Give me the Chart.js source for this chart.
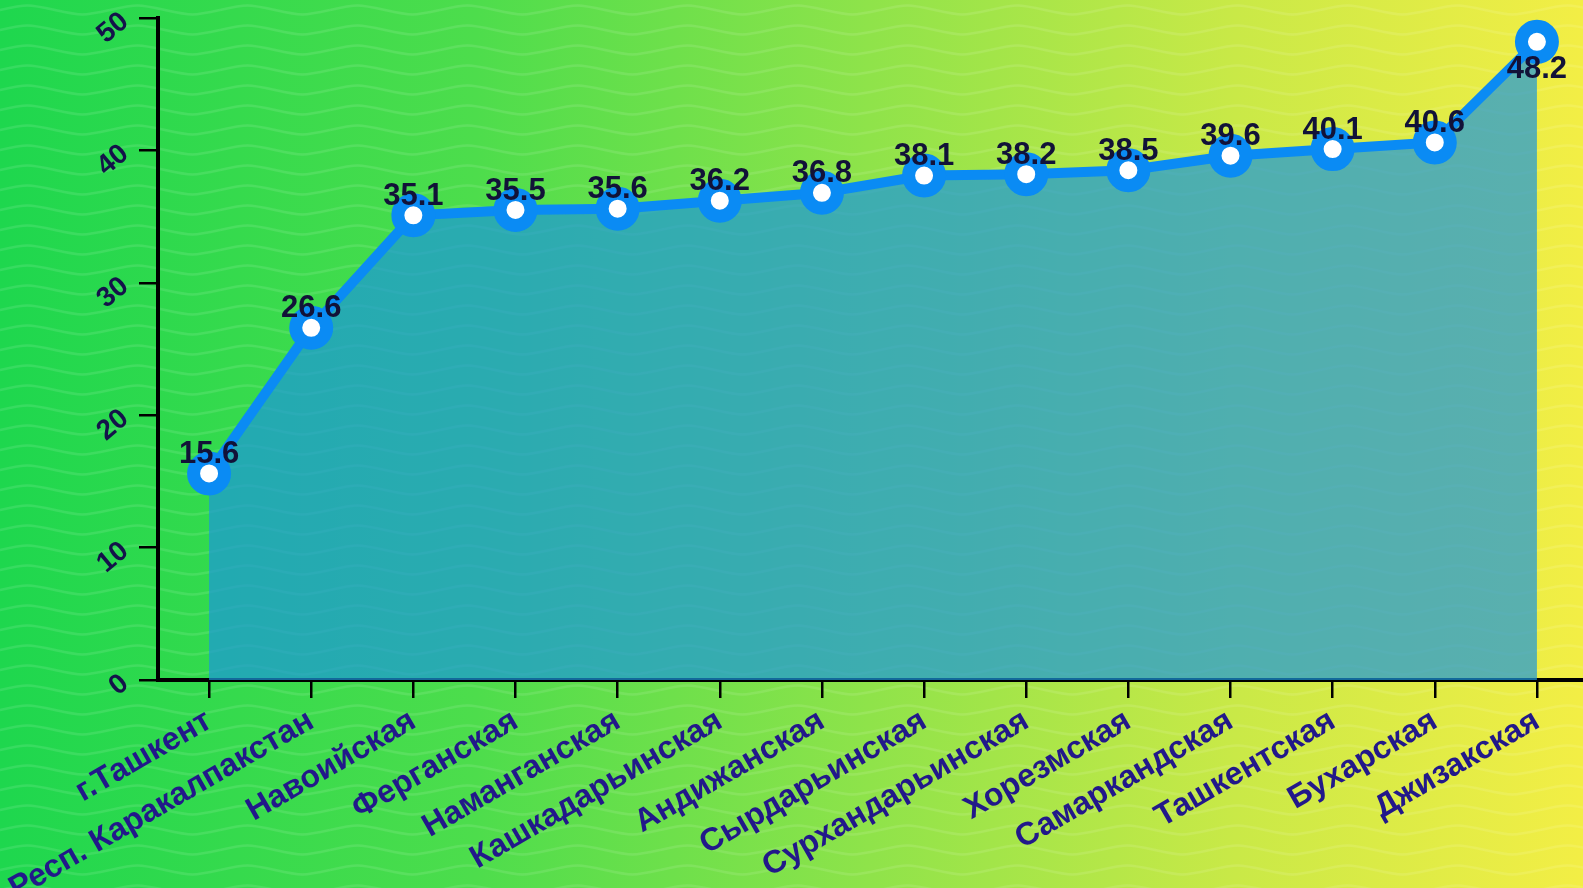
<!DOCTYPE html>
<html>
<head>
<meta charset="utf-8">
<script src="https://cdn.jsdelivr.net/npm/chart.js@4"></script>
<style>
html, body { margin:0; padding:0; overflow:hidden; }
body {
    width:1583px; height:888px;
    background-color:#1fd84f;
    background-image:
        url("data:image/svg+xml;utf8,<svg xmlns='http://www.w3.org/2000/svg' width='110' height='20'><path d='M0 10 C 27 4, 28 4, 55 10 S 83 16, 110 10' fill='none' stroke='rgba(255,255,255,0.10)' stroke-width='2.5'/></svg>"),
        linear-gradient(90deg, #1ed74e 0%, #4ddd4c 30%, #8fe34a 55%, #c9e947 78%, #f3ee45 100%);
}
#wrap { position:absolute; left:0; top:0; width:1588px; height:888px; }
</style>
</head>
<body>
<div id="wrap"><canvas id="Chart1"></canvas></div>
<script>
// регионы и значения
let regiones = ["г.Ташкент","Респ. Каракалпакстан","Навоийская","Ферганская","Наманганская","Кашкадарьинская","Андижанская","Сырдарьинская","Сурхандарьинская","Хорезмская","Самаркандская","Ташкентская","Бухарская","Джизакская"]
let valores = [15.6, 26.6, 35.1, 35.5, 35.6, 36.2, 36.8, 38.1, 38.2, 38.5, 39.6, 40.1, 40.6, 48.2]
let yTicks = [0, 10, 20, 30, 40, 50]

// etiquetas de valor encima de cada punto
const valueLabels = {
    id: 'valueLabels',
    afterDatasetsDraw(chart){
        const ctx = chart.ctx
        const meta = chart.getDatasetMeta(0)
        ctx.save()
        ctx.font = 'bold 31px "Liberation Sans", Arial, sans-serif'
        ctx.fillStyle = '#121238'
        ctx.textAlign = 'center'
        ctx.textBaseline = 'middle'
        meta.data.forEach((pt, i) => {
            let y = pt.y - 19
            if (y - 14 < chart.chartArea.top) y = pt.y + 28
            ctx.fillText(valores[i].toFixed(1), pt.x, y)
        })
        ctx.restore()
    }
}

// sin relleno extra de las escalas
function sinPadding(scale){
    scale.paddingLeft = 0
    scale.paddingRight = 0
    scale.paddingTop = 0
    scale.paddingBottom = 0
}

new Chart(document.getElementById("Chart1"), {
    type: 'line',
    data: {
        labels: regiones,
        datasets: [{
            data: valores,
            borderColor: '#0a8bf4',
            borderWidth: 10,
            backgroundColor: 'rgba(27,150,219,0.7)',
            fill: 'origin',
            tension: 0,
            clip: false,
            pointRadius: 15.5,
            pointHoverRadius: 15.5,
            pointBorderWidth: 13,
            pointBackgroundColor: '#ffffff',
            pointBorderColor: '#0a8bf4'
        }]
    },
    options: {
        maintainAspectRatio: false,
        responsive: true,
        animation: false,
        layout: { autoPadding: false, padding: { top: 18, right: 0, left: 0, bottom: 0 } },
        plugins: {
            legend: { display: false },
            tooltip: { enabled: false }
        },
        scales: {
            x: {
                offset: true,
                border: { display: true, color: '#000', width: 4 },
                grid: { display: true, drawOnChartArea: false, drawTicks: true, tickLength: 18, color: '#000', lineWidth: 2.5, offset: false },
                ticks: {
                    color: '#22188a',
                    font: { family: '"Liberation Sans", Arial, sans-serif', size: 32, weight: 'bold' },
                    minRotation: 30, maxRotation: 30, autoSkip: false, padding: 4
                },
                afterFit: (scale) => { scale.height = 888 - 18 - 662; sinPadding(scale) }
            },
            y: {
                min: 0, max: 50,
                afterBuildTicks: (scale) => { scale.ticks = yTicks.map(v => ({ value: v })) },
                border: { display: true, color: '#000', width: 4 },
                grid: { display: true, drawOnChartArea: false, drawTicks: true, tickLength: 19, color: '#000', lineWidth: 2.5 },
                ticks: {
                    color: '#14124a',
                    font: { family: '"Liberation Sans", Arial, sans-serif', size: 28, weight: 'bold' },
                    minRotation: 40, maxRotation: 40, padding: 14
                },
                afterFit: (scale) => { scale.width = 158; sinPadding(scale) }
            }
        }
    },
    plugins: [ valueLabels ]
});
</script>
</body>
</html>
